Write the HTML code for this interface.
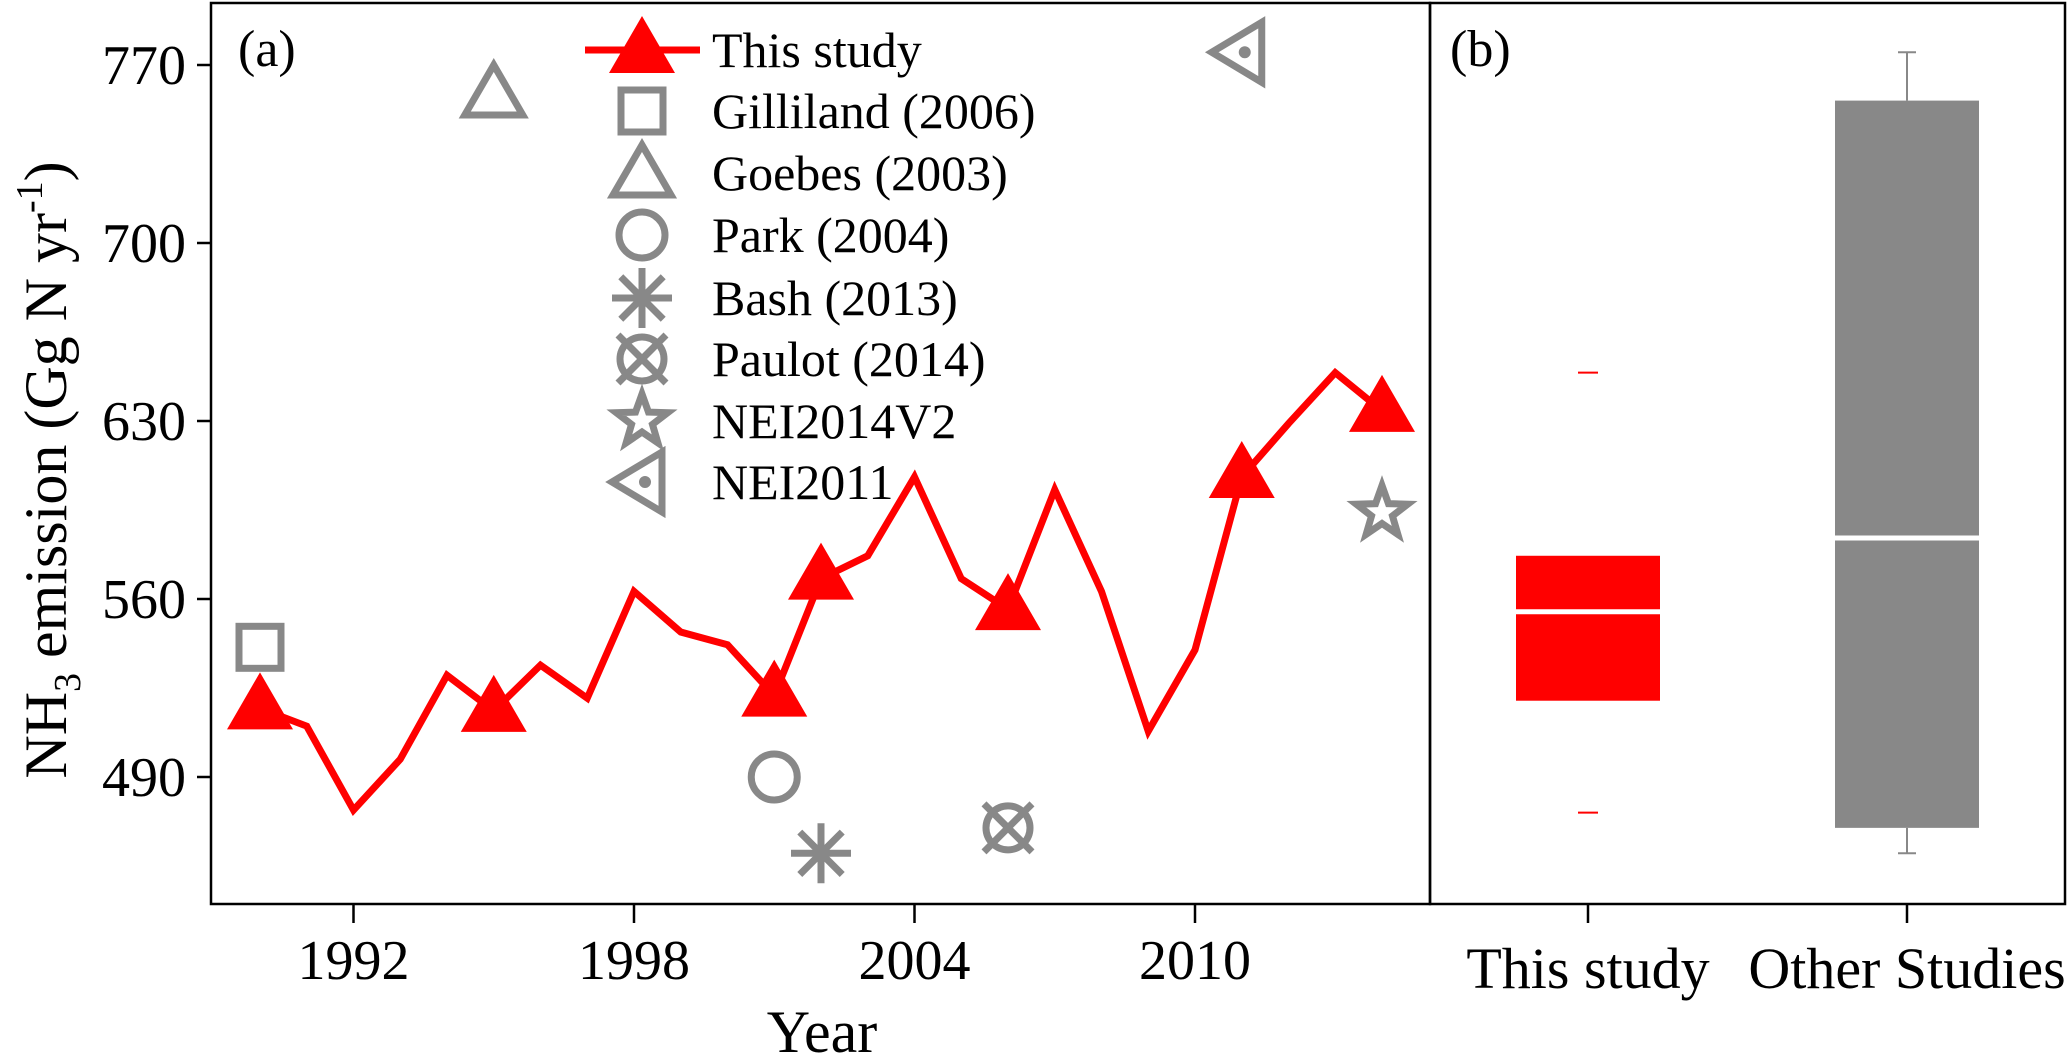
<!DOCTYPE html>
<html><head><meta charset="utf-8"><style>
html,body{margin:0;padding:0;background:#fff}
svg{display:block}
text{font-family:"Liberation Serif",serif;fill:#000}
</style></head><body>
<svg id="chart" width="2067" height="1053" viewBox="0 0 2067 1053" xmlns="http://www.w3.org/2000/svg">
<g id="pa"></g>
<g id="pb"></g>
</svg>
<script>
const years=[1990,1991,1992,1993,1994,1995,1996,1997,1998,1999,2000,2001,2002,2003,2004,2005,2006,2007,2008,2009,2010,2011,2012,2013,2014];
const values=[517,510,477,497,530,516,534,521,563,547,542,522,568,577,608,568,556,603,563,508,540,608,629,649,634];
const markerYears=[1990,1995,2001,2002,2006,2011,2014];
const otherNames=["Gilliland (2006)","Goebes (2003)","Park (2004)","Bash (2013)","Paulot (2014)","NEI2014V2","NEI2011"];
const otherShapes=["square","triangle","circle","asterisk","otimes","star","ltriangle"];
const otherYears=[1990,1995,2001,2002,2006,2014,2011];
const otherValues=[541,759,490,460,470,594,775];
const yTicks=[490,560,630,700,770];
const xTicks=[1992,1998,2004,2010];
const boxCats=["This study","Other Studies"];
const boxQ1=[520,470];const boxMed=[555,584];const boxQ3=[577,756];const boxMin=[476,460];const boxMax=[649,775];
const boxColors=["#ff0000","#888888"];

const NS="http://www.w3.org/2000/svg";
function mk(p,t,a){const e=document.createElementNS(NS,t);for(const k in a)e.setAttribute(k,a[k]);p.appendChild(e);return e;}
const X=y=>260+(y-1990)*46.75;
const Y=v=>65+(770-v)*178/70;
const pa=document.getElementById('pa'),pb=document.getElementById('pb');
const G="#888888";

let e=mk(pa,'rect',{x:211,y:3,width:1219,height:901,fill:'none',stroke:'#000','stroke-width':2.5});


yTicks.forEach(v=>{
 let t=mk(pa,'line',{x1:197,x2:211,y1:Y(v),y2:Y(v),stroke:'#000','stroke-width':2.5});
 
 
 let l=mk(pa,'text',{x:186,y:Y(v)+19,'font-size':56,'text-anchor':'end'});l.textContent=v;
 
 
});
xTicks.forEach(v=>{
 let t=mk(pa,'line',{x1:X(v),x2:X(v),y1:904,y2:923,stroke:'#000','stroke-width':2.5});
 
 
 let l=mk(pa,'text',{x:X(v),y:979,'font-size':56,'text-anchor':'middle'});l.textContent=v;
 
 
});
let xt=mk(pa,'text',{x:822,y:1052,'font-size':60,'text-anchor':'middle'});xt.textContent='Year';


let yt=mk(pa,'text',{x:0,y:0,'font-size':60,'text-anchor':'middle',transform:'translate(66,470) rotate(-90)'});
yt.innerHTML='NH<tspan font-size="38" dy="14">3</tspan><tspan dy="-14"> emission (Gg N yr</tspan><tspan font-size="38" dy="-24">-1</tspan><tspan dy="24">)</tspan>';


let la=mk(pa,'text',{x:238,y:66,'font-size':52});la.textContent='(a)';



let ln=mk(pa,'polyline',{points:years.map((y,i)=>X(y)+','+Y(values[i])).join(' '),fill:'none',stroke:'#ff0000','stroke-width':7,'stroke-linejoin':'miter'});


function tri(p,cx,cy){return mk(p,'polygon',{points:`${cx},${cy-36} ${cx-33},${cy+21} ${cx+33},${cy+21}`,fill:'#ff0000'});}
markerYears.forEach(y=>{const v=values[years.indexOf(y)];let t=tri(pa,X(y),Y(v));
 
 });

function shape(p,s,cx,cy){
 const g=mk(p,'g',{fill:'none',stroke:G,'stroke-width':7});
 if(s=='square')mk(g,'rect',{x:cx-21,y:cy-21,width:42,height:42});
 if(s=='triangle')mk(g,'polygon',{points:`${cx},${cy-28} ${cx-29},${cy+22} ${cx+29},${cy+22}`});
 if(s=='circle')mk(g,'circle',{cx:cx,cy:cy,r:23});
 if(s=='asterisk'){for(let a=0;a<4;a++){const r=a*Math.PI/4;mk(g,'line',{x1:cx-30*Math.cos(r),y1:cy-30*Math.sin(r),x2:cx+30*Math.cos(r),y2:cy+30*Math.sin(r)});}}
 if(s=='otimes'){mk(g,'circle',{cx:cx,cy:cy,r:22});mk(g,'line',{x1:cx-24,y1:cy-24,x2:cx+24,y2:cy+24});mk(g,'line',{x1:cx-24,y1:cy+24,x2:cx+24,y2:cy-24});}
 if(s=='star'){let pts=[];for(let i=0;i<10;i++){const r=i%2?11:27,a=-Math.PI/2+i*Math.PI/5;pts.push((cx+r*Math.cos(a))+','+(cy+r*Math.sin(a)));}mk(g,'polygon',{points:pts.join(' ')});}
 if(s=='ltriangle'){mk(g,'polygon',{points:`${cx-30},${cy} ${cx+20},${cy-30} ${cx+20},${cy+30}`});mk(g,'circle',{cx:cx+3,cy:cy,r:2.5,fill:G});}
 return g;
}
otherShapes.forEach((s,i)=>{let g=shape(pa,s,X(otherYears[i]),Y(otherValues[i]));
 
 });

// legend
const legY=[50,111,173,235,298,359,421,482];
let lg=mk(pa,'g',{});


mk(lg,'line',{x1:585,x2:700,y1:legY[0],y2:legY[0],stroke:'#ff0000','stroke-width':7});
tri(lg,642,legY[0]+2);
let t0=mk(lg,'text',{x:712,y:legY[0]+17,'font-size':50});t0.textContent='This study';


otherNames.forEach((n,i)=>{
 shape(lg,otherShapes[i],642,legY[i+1]);
 let t=mk(lg,'text',{x:712,y:legY[i+1]+17,'font-size':50});t.textContent=n;
 
 
});

// panel b
let fb=mk(pb,'rect',{x:1430,y:3,width:635,height:901,fill:'none',stroke:'#000','stroke-width':2.5});


let lb=mk(pb,'text',{x:1450,y:66,'font-size':52});lb.textContent='(b)';


const bx=[1588,1907],bw=144;
boxCats.forEach((c,i)=>{
 const cx=bx[i],col=boxColors[i];
 let tk=mk(pb,'line',{x1:cx,x2:cx,y1:904,y2:923,stroke:'#000','stroke-width':2.5});
 
 
 let t=mk(pb,'text',{x:cx,y:988,'font-size':58,'text-anchor':'middle'});t.textContent=c;
 
 
 if(i==1){
  mk(pb,'line',{x1:cx,x2:cx,y1:Y(boxMax[i]),y2:Y(boxQ3[i]),stroke:col,'stroke-width':2});
  mk(pb,'line',{x1:cx,x2:cx,y1:Y(boxQ1[i]),y2:Y(boxMin[i]),stroke:col,'stroke-width':2});
  mk(pb,'line',{x1:cx-9,x2:cx+9,y1:Y(boxMax[i]),y2:Y(boxMax[i]),stroke:col,'stroke-width':2});
  mk(pb,'line',{x1:cx-9,x2:cx+9,y1:Y(boxMin[i]),y2:Y(boxMin[i]),stroke:col,'stroke-width':2});
 } else {
  mk(pb,'line',{x1:cx-10,x2:cx+10,y1:Y(boxMax[i]),y2:Y(boxMax[i]),stroke:col,'stroke-width':2});
  mk(pb,'line',{x1:cx-10,x2:cx+10,y1:Y(boxMin[i]),y2:Y(boxMin[i]),stroke:col,'stroke-width':2});
 }
 let b=mk(pb,'rect',{x:cx-bw/2,y:Y(boxQ3[i]),width:bw,height:Y(boxQ1[i])-Y(boxQ3[i]),fill:col});
 
 
 let m=mk(pb,'line',{x1:cx-bw/2,x2:cx+bw/2,y1:Y(boxMed[i]),y2:Y(boxMed[i]),stroke:'#fff','stroke-width':5});
 
 
});
</script>
</body></html>
